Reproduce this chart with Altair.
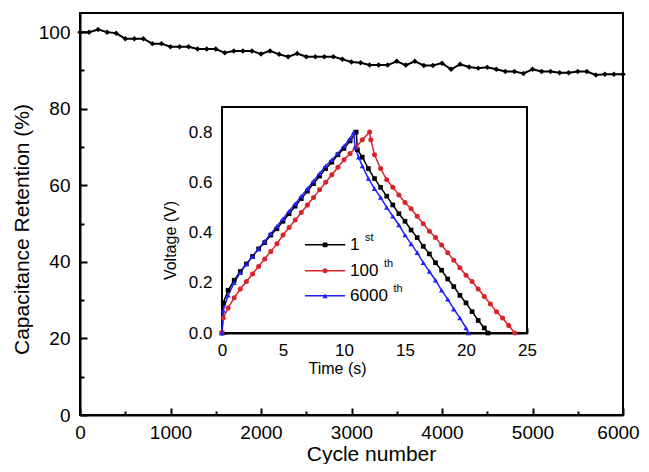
import altair as alt
import pandas as pd

# ---------------- data: main (capacitance retention) ----------------
cycles = [0, 100, 200, 300, 400, 500, 600, 700, 800, 900,
          1000, 1100, 1200, 1300, 1400, 1500, 1600, 1700, 1800, 1900,
          2000, 2100, 2200, 2300, 2400, 2500, 2600, 2700, 2800, 2900,
          3000, 3100, 3200, 3300, 3400, 3500, 3600, 3700, 3800, 3900,
          4000, 4100, 4200, 4300, 4400, 4500, 4600, 4700, 4800, 4900,
          5000, 5100, 5200, 5300, 5400, 5500, 5600, 5700, 5800, 5900, 6000]
retention = [100.0, 100.0, 100.7, 100.0, 99.7, 98.3, 98.3, 98.3, 97.0, 97.0,
             96.2, 96.2, 96.2, 95.6, 95.6, 95.6, 94.6, 95.1, 95.1, 95.1,
             94.3, 95.1, 94.2, 93.6, 94.4, 93.6, 93.6, 93.6, 93.6, 92.9,
             92.2, 92.0, 91.4, 91.4, 91.4, 92.4, 91.4, 92.4, 91.3, 91.3,
             91.9, 90.3, 91.6, 90.9, 90.6, 90.8, 90.3, 89.7, 89.7, 89.2,
             90.3, 89.7, 89.7, 89.4, 89.4, 89.7, 89.7, 88.8, 89.0, 89.0, 89.0]

# ---------------- data: inset (charge / discharge) ----------------
t_1st = [0, 0.1, 0.5, 1, 1.5, 2, 2.5, 3, 3.5, 4, 4.5, 5, 5.5, 6, 6.5, 7, 7.5, 8, 8.5, 9, 9.5, 10, 10.5, 11,
         11.1, 11.5, 12, 12.5, 13, 13.5, 14, 14.5, 15, 15.5, 16, 16.5, 17, 17.5, 18, 18.5, 19, 19.5, 20, 20.5,
         21, 21.5, 21.8]
v_1st = [0.0, 0.12, 0.17, 0.21, 0.245, 0.275, 0.305, 0.335, 0.36, 0.39, 0.415, 0.445, 0.475, 0.505, 0.535,
         0.565, 0.595, 0.625, 0.655, 0.68, 0.71, 0.735, 0.765, 0.80,
         0.73, 0.70, 0.655, 0.615, 0.58, 0.545, 0.51, 0.475, 0.445, 0.41, 0.38, 0.345, 0.315, 0.28, 0.25,
         0.215, 0.185, 0.15, 0.12, 0.085, 0.05, 0.02, 0.0]

t_100th = [0, 0.1, 0.5, 1, 1.5, 2, 2.5, 3, 3.5, 4, 4.5, 5, 5.5, 6, 6.5, 7, 7.5, 8, 8.5, 9, 9.5, 10, 10.5, 11,
           11.5, 12.1,
           12.2, 12.5, 13, 13.5, 14, 14.5, 15, 15.5, 16, 16.5, 17, 17.5, 18, 18.5, 19, 19.5, 20, 20.5, 21,
           21.5, 22, 22.5, 23, 23.5, 24]
v_100th = [0.0, 0.06, 0.10, 0.14, 0.175, 0.205, 0.235, 0.265, 0.295, 0.325, 0.355, 0.39, 0.42, 0.45, 0.48,
           0.51, 0.54, 0.57, 0.60, 0.63, 0.66, 0.69, 0.715, 0.74, 0.77, 0.80,
           0.77, 0.71, 0.655, 0.61, 0.58, 0.55, 0.52, 0.495, 0.465, 0.435, 0.405, 0.38, 0.35, 0.32, 0.29,
           0.26, 0.23, 0.205, 0.175, 0.145, 0.115, 0.085, 0.06, 0.03, 0.0]

t_6000th = [0, 0.1, 0.5, 1, 1.5, 2, 2.5, 3, 3.5, 4, 4.5, 5, 5.5, 6, 6.5, 7, 7.5, 8, 8.5, 9, 9.5, 10, 10.5,
            10.8,
            10.9, 11.2, 11.5, 12, 12.5, 13, 13.5, 14, 14.5, 15, 15.5, 16, 16.5, 17, 17.5, 18, 18.5, 19, 19.5,
            20, 20.2]
v_6000th = [0.0, 0.09, 0.15, 0.20, 0.24, 0.275, 0.305, 0.335, 0.365, 0.395, 0.425, 0.455, 0.485, 0.515,
            0.545, 0.575, 0.605, 0.635, 0.665, 0.69, 0.715, 0.745, 0.775, 0.80,
            0.74, 0.70, 0.665, 0.615, 0.575, 0.54, 0.50, 0.465, 0.43, 0.39, 0.355, 0.32, 0.28, 0.245, 0.21,
            0.17, 0.135, 0.095, 0.06, 0.02, 0.0]

series_names = ["1st", "100th", "6000th"]
legend_main = ["1", "100", "6000"]
legend_sup = ["st", "th", "th"]

# ---------------- layout / style ----------------
FONT = "Liberation Sans"
W, H = 543, 402
INSET_XR = [142, 447]     # inset x pixel range inside main plot
INSET_YR = [320, 94]      # inset y pixel range inside main plot
PX_PER_T = (INSET_XR[1] - INSET_XR[0]) / 25.0
colors = ["#000000", "#d9232a", "#1f1fff"]
shapes = ["square", "circle", "triangle-up"]
sizes = [22, 28, 28]
legend_rows = [0.351, 0.248, 0.148]
legend_t0, legend_t1, legend_text_t = 6.8, 10.1, 10.5

main_df = pd.DataFrame({"cycle": cycles, "ret": retention})

rows = []
for name, ts, vs in zip(series_names, [t_1st, t_100th, t_6000th], [v_1st, v_100th, v_6000th]):
    for i, (t, v) in enumerate(zip(ts, vs)):
        rows.append({"series": name, "t": t, "v": v, "idx": i})
inset_df = pd.DataFrame(rows)

leg_rows = []
for name, lab, sup, vrow in zip(series_names, legend_main, legend_sup, legend_rows):
    w = len(lab) * 0.556 * 17
    leg_rows.append({"series": name, "lab": lab, "sup": sup, "v": vrow,
                     "t0": legend_t0, "t1": legend_t1, "tm": (legend_t0 + legend_t1) / 2,
                     "tt": legend_text_t, "ts": legend_text_t + (w + 5.5) / PX_PER_T})
leg_df = pd.DataFrame(leg_rows)
frame_df = pd.DataFrame({"x0": [0], "x1": [25], "y0": [0.0], "y1": [0.9]})

mx_scale = alt.Scale(domain=[0, 6000], nice=False, zero=False)
my_scale = alt.Scale(domain=[0, 105], nice=False, zero=False)
ix_scale = alt.Scale(domain=[0, 25], range=INSET_XR, nice=False, zero=False)
iy_scale = alt.Scale(domain=[0, 0.9], range=INSET_YR, nice=False, zero=False)
col_scale = alt.Scale(domain=series_names, range=colors)
shp_scale = alt.Scale(domain=series_names, range=shapes)
size_scale = alt.Scale(domain=series_names, range=sizes)

# ---- main chart ----
main_minor = alt.Chart(main_df).mark_line(opacity=0).encode(
    x=alt.X("cycle:Q", scale=mx_scale,
            axis=alt.Axis(orient="bottom", values=list(range(500, 6000, 1000)), labels=False,
                          domain=False, tickSize={"expr": "-4"}, title="")),
    y=alt.Y("ret:Q", scale=my_scale,
            axis=alt.Axis(orient="left", values=list(range(10, 101, 20)), labels=False,
                          domain=False, tickSize={"expr": "-4"}, title="")),
)

main_line = alt.Chart(main_df).mark_line(
    color="black", strokeWidth=2,
    point=alt.OverlayMarkDef(shape="diamond", size=30, filled=True, color="black"),
).encode(
    x=alt.X("cycle:Q", scale=mx_scale,
            axis=alt.Axis(orient="bottom", values=list(range(0, 6001, 1000)), format="d",
                          tickSize={"expr": "-7"}, labelPadding=15, labelFlush=False,
                          labelOffset={"condition": {"test": "datum.value == 6000", "value": -5},
                                       "value": 0},
                          title="Cycle number", titleX=291, titleY=45,
                          titleBaseline="alphabetic", titleAlign="center")),
    y=alt.Y("ret:Q", scale=my_scale,
            axis=alt.Axis(orient="left", values=list(range(0, 101, 20)), format="d",
                          tickSize={"expr": "-7"}, labelPadding=17, labelFlush=False,
                          title="Capacitance Retention (%)", titleX=-58, titleY=216,
                          titleAngle=-90, titleBaseline="middle", titleAlign="center")),
)

# ---- inset ----
inset_frame = alt.Chart(frame_df).mark_rect(fill="white", stroke="black", strokeWidth=2).encode(
    x=alt.X("x0:Q", scale=ix_scale, axis=None),
    x2="x1:Q",
    y=alt.Y("y0:Q", scale=iy_scale, axis=None),
    y2="y1:Q",
)

inset_minor = alt.Chart(inset_df).mark_line(opacity=0).encode(
    x=alt.X("t:Q", scale=ix_scale,
            axis=alt.Axis(orient="bottom", offset=-82, values=[2.5, 7.5, 12.5, 17.5, 22.5],
                          labels=False, domain=False, tickSize={"expr": "-3"}, title="")),
    y=alt.Y("v:Q", scale=iy_scale,
            axis=alt.Axis(orient="left", offset=-142, values=[0.1, 0.3, 0.5, 0.7],
                          labels=False, domain=False, tickSize={"expr": "-3"}, title="")),
    detail="series:N",
)

inset_axes = alt.Chart(inset_df).mark_line(opacity=0).encode(
    x=alt.X("t:Q", scale=ix_scale,
            axis=alt.Axis(orient="bottom", offset=-82, values=[0, 5, 10, 15, 20, 25], format="d",
                          tickSize={"expr": "-5"}, labelPadding=14, labelFontSize=17, labelFlush=False,
                          title="Time (s)", titleFontSize=16, titleX=257, titleY=40,
                          titleBaseline="alphabetic", titleAlign="center")),
    y=alt.Y("v:Q", scale=iy_scale,
            axis=alt.Axis(orient="left", offset=-142, values=[0, 0.2, 0.4, 0.6, 0.8], format=".1f",
                          tickSize={"expr": "-5"}, labelPadding=15, labelFontSize=17, labelFlush=False,
                          title="Voltage (V)", titleFontSize=16, titleX=-52, titleY=227,
                          titleAngle=-90, titleBaseline="middle", titleAlign="center")),
    detail="series:N",
)

inset_lines = alt.Chart(inset_df).mark_line(strokeWidth=1.5).encode(
    x=alt.X("t:Q", scale=ix_scale, axis=None),
    y=alt.Y("v:Q", scale=iy_scale, axis=None),
    color=alt.Color("series:N", scale=col_scale, legend=None),
    order="idx:Q",
)

inset_points = alt.Chart(inset_df).mark_point(filled=True, opacity=1).encode(
    x=alt.X("t:Q", scale=ix_scale, axis=None),
    y=alt.Y("v:Q", scale=iy_scale, axis=None),
    color=alt.Color("series:N", scale=col_scale, legend=None),
    shape=alt.Shape("series:N", scale=shp_scale, legend=None),
    size=alt.Size("series:N", scale=size_scale, legend=None),
)

leg_rule = alt.Chart(leg_df).mark_rule(strokeWidth=1.5).encode(
    x=alt.X("t0:Q", scale=ix_scale, axis=None),
    x2="t1:Q",
    y=alt.Y("v:Q", scale=iy_scale, axis=None),
    color=alt.Color("series:N", scale=col_scale, legend=None),
)
leg_pt = alt.Chart(leg_df).mark_point(filled=True, opacity=1).encode(
    x=alt.X("tm:Q", scale=ix_scale, axis=None),
    y=alt.Y("v:Q", scale=iy_scale, axis=None),
    color=alt.Color("series:N", scale=col_scale, legend=None),
    shape=alt.Shape("series:N", scale=shp_scale, legend=None),
    size=alt.Size("series:N", scale=size_scale, legend=None),
)
leg_txt = alt.Chart(leg_df).mark_text(font=FONT, fontSize=17, align="left", baseline="middle",
                                      color="black").encode(
    x=alt.X("tt:Q", scale=ix_scale, axis=None),
    y=alt.Y("v:Q", scale=iy_scale, axis=None),
    text="lab:N",
)
leg_sup = alt.Chart(leg_df).mark_text(font=FONT, fontSize=11, align="left", baseline="middle",
                                      dy=-7, color="black").encode(
    x=alt.X("ts:Q", scale=ix_scale, axis=None),
    y=alt.Y("v:Q", scale=iy_scale, axis=None),
    text="sup:N",
)

chart = alt.layer(
    main_minor, main_line, inset_frame, inset_minor, inset_axes,
    inset_lines, inset_points, leg_rule, leg_pt, leg_txt, leg_sup,
).resolve_scale(
    x="independent", y="independent", color="independent", shape="independent", size="independent"
).properties(
    width=W, height=H,
    autosize=alt.AutoSizeParams(type="none"),
    padding={"left": 72, "top": 5, "right": 18, "bottom": 49},
).configure_view(
    stroke="black", strokeWidth=2
).configure_axis(
    grid=False, domainColor="black", domainWidth=2, tickColor="black", tickWidth=2,
    labelFont=FONT, labelFontSize=19, labelColor="black",
    titleFont=FONT, titleFontSize=21, titleFontWeight="normal", titleColor="black",
)

chart.save("out.html", embed_options={"renderer": "svg", "actions": False})
